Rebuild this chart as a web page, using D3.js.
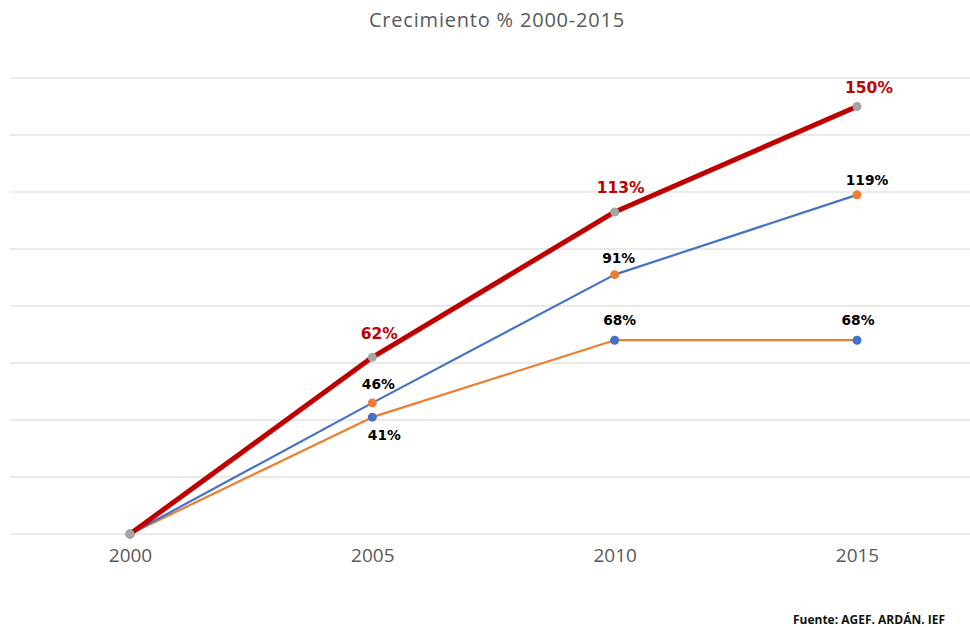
<!DOCTYPE html>
<html>
<head>
<meta charset="utf-8">
<script src="https://cdn.jsdelivr.net/npm/d3@7"></script>
<style>
  body { margin: 0; background: #fff; }
  svg { display: block; }
</style>
</head>
<body>
<script>
const width = 970;
const height = 627;

// data
const years = ['2000', '2005', '2010', '2015'];
const total = [0, 62, 113, 150];
const serieA = [0, 46, 91, 119];
const serieB = [0, 41, 68, 68];
const yTicks = [0, 20, 40, 60, 80, 100, 120, 140, 160];

const svg = d3.select('body')
    .append('svg')
    .attr('width', width)
    .attr('height', height);

const x = d3.scalePoint().domain(years).range([130, 857]);
const y = d3.scaleLinear().domain([0, 160]).range([534, 78]);

// title
svg.append('text')
    .attr('x', 497)
    .attr('y', 27)
    .attr('text-anchor', 'middle')
    .attr('font-family', '"Open Sans", sans-serif')
    .attr('font-size', 20)
    .attr('letter-spacing', 0.8)
    .attr('fill', '#595959')
    .text('Crecimiento % 2000-2015');

// gridlines
svg.append('g')
    .selectAll('line')
    .data(yTicks)
    .join('line')
    .attr('x1', 10)
    .attr('x2', 970)
    .attr('y1', d => y(d))
    .attr('y2', d => y(d))
    .attr('stroke', '#e3e3e3')
    .attr('stroke-width', 1.5);

// x axis labels
const xAxis = svg.append('g')
    .attr('transform', `translate(0,${y(0)})`)
    .call(d3.axisBottom(x).tickSize(0).tickPadding(15));
xAxis.select('.domain').remove();
xAxis.selectAll('text')
    .attr('font-family', '"Open Sans", sans-serif')
    .attr('font-size', 19)
    .attr('fill', '#595959');

const line = d3.line()
    .x((d, i) => x(years[i]))
    .y(d => y(d));

// label offsets per point: [dx, dy]; null = no label
const series = [
    { values: serieB, stroke: '#ed7d31', width: 2.2, marker: '#4472c4', color: '#000', size: 13.8,
      offsets: [null, [12, 23], [5, -15], [1, -15]] },
    { values: serieA, stroke: '#4472c4', width: 2.2, marker: '#ed7d31', color: '#000', size: 13.8,
      offsets: [null, [6, -14], [4, -12], [10, -10]] },
    { values: total, stroke: '#c00000', width: 5, marker: '#a5a5a5', color: '#c00000', size: 15.5,
      offsets: [null, [7, -18], [6, -19], [12, -14]] }
];

series.forEach(s => {
    svg.append('path')
        .datum(s.values)
        .attr('d', line)
        .attr('fill', 'none')
        .attr('stroke', s.stroke)
        .attr('stroke-width', s.width)
        .attr('stroke-linejoin', 'round');

    svg.append('g')
        .selectAll('circle')
        .data(s.values)
        .join('circle')
        .attr('cx', (d, i) => x(years[i]))
        .attr('cy', d => y(d))
        .attr('r', 4.5)
        .attr('fill', s.marker);
});

// value labels
series.forEach(s => {
    const pts = s.values
        .map((v, i) => ({ v, i, off: s.offsets[i] }))
        .filter(d => d.off);
    svg.append('g')
        .selectAll('text')
        .data(pts)
        .join('text')
        .attr('x', d => x(years[d.i]) + d.off[0])
        .attr('y', d => y(d.v) + d.off[1])
        .attr('text-anchor', 'middle')
        .attr('font-family', '"DejaVu Sans", Verdana, sans-serif')
        .attr('font-weight', 'bold')
        .attr('font-size', s.size)
        .attr('fill', s.color)
        .text(d => d.v + '%');
});

// source
svg.append('text')
    .attr('x', 945)
    .attr('y', 624)
    .attr('text-anchor', 'end')
    .attr('font-family', '"Open Sans", sans-serif')
    .attr('font-weight', 700)
    .attr('font-size', 12)
    .attr('fill', '#111')
    .text('Fuente: AGEF. ARDÁN. IEF');
</script>
</body>
</html>
